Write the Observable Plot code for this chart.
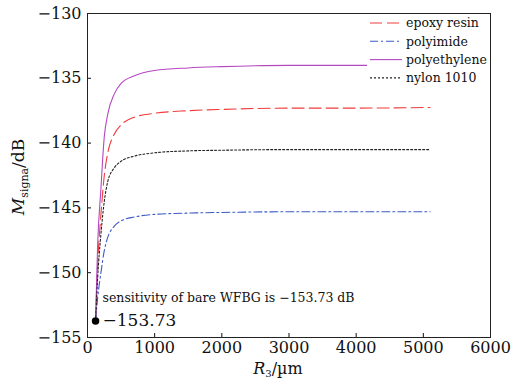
<!DOCTYPE html>
<html><head><meta charset="utf-8">
<script src="https://cdn.jsdelivr.net/npm/d3@7"></script>
<script src="https://cdn.jsdelivr.net/npm/@observablehq/plot@0.6"></script>
<style>
body{margin:0;background:#fff;}
#chart svg{font-family:"DejaVu Serif",serif;}
</style>
</head><body><div id="chart"></div>
<script>
const R3 = [120, 150, 200, 250, 300, 400, 500, 700, 1000, 1500, 2000, 3000, 4000, 5100];
const epoxyResin   = [-153.73, -149.5, -145.5, -142.5, -140.8, -139.3, -138.6, -138.0, -137.7, -137.5, -137.4, -137.3, -137.3, -137.25];
const polyimide    = [-153.73, -152.0, -150.0, -148.3, -147.3, -146.4, -146.0, -145.7, -145.5, -145.4, -145.35, -145.3, -145.3, -145.3];
const polyethylene = [-153.73, -148.0, -143.5, -139.5, -137.8, -136.2, -135.4, -134.8, -134.4, -134.2, -134.1, -134.0, -134.0, -134.0];
const nylon1010    = [-153.73, -150.5, -147.0, -144.5, -143.0, -141.9, -141.4, -141.0, -140.75, -140.6, -140.55, -140.5, -140.5, -140.5];
const seriesNames = ["epoxy resin", "polyimide", "polyethylene", "nylon 1010"];
const seriesValues = [epoxyResin, polyimide, polyethylene, nylon1010];
const colors = ["#f03c3c", "#3c5ac8", "#b548c0", "#222222"];
const dashes = ["12,5", "8,3,2,3", null, "2,2"];
const xTicks = [0, 1000, 2000, 3000, 4000, 5000, 6000];
const yTicks = [-130, -135, -140, -145, -150, -155];
const bareValue = -153.73;
const bareR = 120;

const lineMarks = seriesValues.map((vals, i) =>
  Plot.line(R3.map((r, j) => ({r, v: vals[j]})), {
    x: "r", y: "v", stroke: colors[i], strokeWidth: 1.1,
    strokeDasharray: dashes[i], curve: "monotone-x"
  })
);

const fmt = d => (d < 0 ? "\u2212" + Math.abs(d) : String(d));

const chart = Plot.plot({
  width: 512, height: 380,
  marginLeft: 87, marginTop: 13, marginRight: 22, marginBottom: 43,
  style: {fontFamily: "DejaVu Serif, serif", fontSize: "16px", color: "#111"},
  x: {domain: [0, 6000]},
  y: {domain: [-155, -130]},
  marks: [
    Plot.axisX({ticks: xTicks, tickSize: -4, tickPadding: 8, tickFormat: d => String(d), label: null, fontSize: 16}),
    Plot.axisY({ticks: yTicks, tickSize: -4, tickPadding: 10, tickFormat: fmt, label: null, fontSize: 16}),
    ...lineMarks,
    Plot.dot([{r: bareR, v: bareValue}], {x: "r", y: "v", r: 3, fill: "#000", stroke: "#000"}),
    Plot.text([{r: bareR, v: bareValue}], {x: "r", y: "v", text: d => fmt(d.v), textAnchor: "start", dx: 7, dy: 0, fontSize: 17}),
    Plot.text([{r: bareR, v: bareValue}], {x: "r", y: "v", text: d => "sensitivity of bare WFBG is " + fmt(d.v) + " dB", textAnchor: "start", dx: 7, dy: -23, fontSize: 12.5}),
    Plot.frame({stroke: "#222", strokeWidth: 1})
  ]
});
document.getElementById("chart").append(chart);

const svg = d3.select(chart);
// axis labels with subscripts
const xl = svg.append("text").attr("x", 278).attr("y", 374).attr("text-anchor", "middle")
  .attr("font-size", 16).attr("fill", "#111");
xl.append("tspan").attr("font-style", "italic").text("R");
xl.append("tspan").attr("font-size", 10).attr("dy", 3).text("3");
xl.append("tspan").attr("dy", -3).text("/\u00b5m");

const yl = svg.append("text").attr("transform", "translate(24,177) rotate(-90)").attr("text-anchor", "middle")
  .attr("font-size", 17).attr("fill", "#111");
yl.append("tspan").attr("font-style", "italic").text("M");
yl.append("tspan").attr("font-size", 11).attr("dy", 4).text("signa");
yl.append("tspan").attr("dy", -4).text("/dB");

// legend (opaque background, no border)
const lg = svg.append("g");
lg.append("rect").attr("x", 367).attr("y", 14).attr("width", 122).attr("height", 74).attr("fill", "#fff");
seriesNames.forEach((name, i) => {
  const y = 23 + i * 18.3;
  lg.append("line").attr("x1", 370).attr("x2", 402).attr("y1", y).attr("y2", y)
    .attr("stroke", colors[i]).attr("stroke-width", 1.1).attr("stroke-dasharray", dashes[i]);
  lg.append("text").attr("x", 406).attr("y", y).attr("dy", "0.35em").attr("font-size", 12.5)
    .attr("text-anchor", "start").attr("fill", "#111").text(name);
});
</script>
</body></html>
